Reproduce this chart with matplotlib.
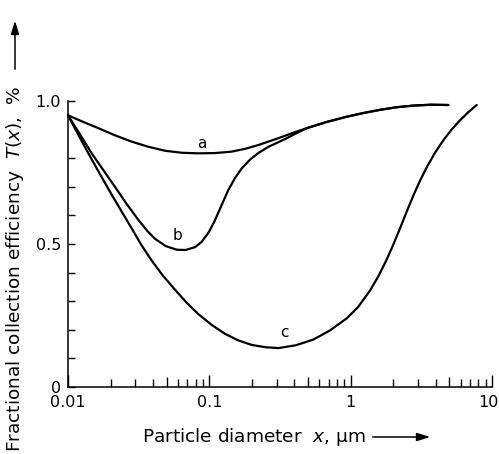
import math
import matplotlib
matplotlib.use("Agg")
import matplotlib.pyplot as plt
from matplotlib.patches import FancyArrowPatch
from matplotlib.ticker import FixedLocator, NullFormatter

# values (x in µm, y as fraction)
a_x = [0.01, 0.0128, 0.0164, 0.0215, 0.0282, 0.037, 0.0486, 0.064, 0.0836, 0.11, 0.144, 0.18, 0.222, 0.308,
       0.393, 0.489, 0.68, 0.938, 1.23, 1.61, 2.1, 2.78, 3.7, 4.91]
a_y = [0.950, 0.927, 0.905, 0.880, 0.858, 0.840, 0.826, 0.819, 0.817, 0.818, 0.823, 0.833, 0.846, 0.870,
       0.889, 0.905, 0.927, 0.945, 0.958, 0.969, 0.978, 0.984, 0.987, 0.986]

b_x = [0.01, 0.0121, 0.0147, 0.0178, 0.0215, 0.026, 0.0315, 0.0365, 0.0413, 0.049, 0.0588, 0.068, 0.0792,
       0.088, 0.0984, 0.108, 0.119, 0.127, 0.136, 0.152, 0.170, 0.195, 0.222, 0.26, 0.308, 0.35, 0.393, 0.489,
       0.68, 0.938, 1.23, 1.61, 2.1, 2.78, 3.7, 4.91]
b_y = [0.950, 0.885, 0.817, 0.758, 0.700, 0.640, 0.584, 0.545, 0.518, 0.493, 0.480, 0.479, 0.489,
       0.507, 0.539, 0.576, 0.623, 0.655, 0.688, 0.731, 0.765, 0.796, 0.818, 0.839, 0.856, 0.869, 0.882, 0.905,
       0.927, 0.945, 0.958, 0.969, 0.978, 0.984, 0.987, 0.986]

c_x = [0.01, 0.0118, 0.0139, 0.0168, 0.0204, 0.024, 0.0282, 0.033, 0.0391, 0.047, 0.0572, 0.069, 0.0836,
       0.104, 0.129, 0.16, 0.2, 0.25, 0.308, 0.41, 0.545, 0.715, 0.938, 1.13, 1.37, 1.57, 1.80, 2.0, 2.24,
       2.5, 2.78, 3.1, 3.46, 3.96, 4.53, 5.2, 5.95, 6.8, 7.80]
c_y = [0.950, 0.883, 0.818, 0.745, 0.672, 0.613, 0.555, 0.497, 0.442, 0.389, 0.340, 0.295, 0.255,
       0.217, 0.186, 0.163, 0.147, 0.139, 0.136, 0.146, 0.166, 0.198, 0.240, 0.280, 0.337, 0.387, 0.446, 0.497, 0.556,
       0.615, 0.670, 0.722, 0.769, 0.820, 0.863, 0.901, 0.933, 0.961, 0.986]

curve_labels = ["a", "b", "c"]
label_pos = [(0.0888, 0.853), (0.06, 0.528), (0.339, 0.189)]

x_ticks = [0.01, 0.1, 1, 10]
x_ticklabels = ["0.01", "0.1", "1", ""]
last_xlabel = "10"
y_ticks = [0, 0.5, 1.0]
y_ticklabels = ["0", "0.5", "1.0"]
y_minor = [0.1, 0.2, 0.3, 0.4, 0.6, 0.7, 0.8]

W, H = 499, 454
fig = plt.figure(figsize=(W / 100, H / 100), dpi=100)
ax = fig.add_axes([68 / W, 1 - 387 / H, 424 / W, 286 / H])

for xs, ys in [(a_x, a_y), (b_x, b_y), (c_x, c_y)]:
    ax.plot(xs, ys, color="black", lw=1.6, clip_on=False,
            solid_capstyle="round", solid_joinstyle="round")

for lab, (lx, ly) in zip(curve_labels, label_pos):
    ax.text(lx, ly, lab, fontsize=11, ha="center", va="center")

ax.set_xscale("log")
ax.set_xlim(0.01, 10)
ax.set_ylim(0, 1.0)

for s in ["top", "right"]:
    ax.spines[s].set_visible(False)
for s in ["left", "bottom"]:
    ax.spines[s].set_linewidth(1.1)

ax.set_xticks(x_ticks)
ax.set_xticklabels(x_ticklabels)
minor_x = [m * d for d in [0.01, 0.1, 1] for m in range(2, 10)]
ax.xaxis.set_minor_locator(FixedLocator(minor_x))
ax.xaxis.set_minor_formatter(NullFormatter())
ax.set_yticks(y_ticks)
ax.set_yticklabels(y_ticklabels)
ax.yaxis.set_minor_locator(FixedLocator(y_minor))

ax.tick_params(axis="x", which="major", direction="in", length=8.5, width=1.0, labelsize=11.5, pad=6)
ax.tick_params(axis="x", which="minor", direction="in", length=5.5, width=1.0)
ax.tick_params(axis="y", which="both", direction="in", length=5, width=1.0, labelsize=11.5, pad=5)

# "10" sits right at the figure edge, keep it inside
ax.annotate(last_xlabel, xy=(x_ticks[-1], 0), xycoords=("data", "axes fraction"),
            xytext=(4.5, -6), textcoords="offset points", ha="right", va="top", fontsize=11.5)

# the 5-ticks are a bit longer in the original
for t, loc in zip(ax.xaxis.get_minor_ticks(), minor_x):
    lead = loc / 10 ** math.floor(math.log10(loc) + 1e-9)
    if abs(lead - 5) < 1e-6:
        t.tick1line.set_markersize(7)

fig.text(142 / W, 1 - 437 / H, "Particle diameter  $x$, µm", fontsize=13.3,
         ha="left", va="center")
fig.text(15 / W, 1 - 452 / H, "Fractional collection efficiency  $T(x)$,  %", fontsize=13.3,
         rotation=90, ha="center", va="bottom")

fig.patches.append(FancyArrowPatch(
    (370 / W, 1 - 437 / H), (433 / W, 1 - 437 / H), transform=fig.transFigure,
    arrowstyle="-|>,head_length=8,head_width=2.5", color="black", lw=1.1))
fig.patches.append(FancyArrowPatch(
    (15 / W, 1 - 72 / H), (15 / W, 1 - 18 / H), transform=fig.transFigure,
    arrowstyle="-|>,head_length=8,head_width=2.5", color="black", lw=1.1))

fig.savefig("out.png", dpi=100)
